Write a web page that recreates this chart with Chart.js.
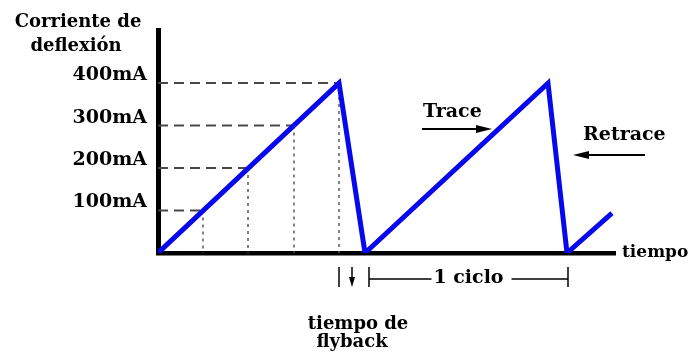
<!DOCTYPE html>
<html>
<head>
<meta charset="utf-8">
<script src="https://cdn.jsdelivr.net/npm/chart.js@4.4.1/dist/chart.umd.min.js"></script>
<style>
  html, body { margin: 0; padding: 0; background: #fff; }
  #wrap { width: 691px; height: 354px; }
</style>
</head>
<body>
<div id="wrap"><canvas id="deflexion"></canvas></div>
<script>
"use strict";

// Diente de sierra: tiempo (unidades arbitrarias) y corriente de deflexión (mA)
const tiempo = [0, 18.1, 20.7, 39.0, 40.9, 45.4];
const corriente = [0, 400, 0, 400, 0, 94];

// Niveles marcados en el eje y y el instante en que la primera rampa los cruza
const niveles = [100, 200, 300, 400];
const cruces = [4.5, 9.0, 13.6, 18.1];
const etiquetasY = ['100mA', '200mA', '300mA', '400mA'];

// Intervalos marcados bajo el eje de tiempo
const flybackInicio = 18.1;
const flybackFlecha = 19.4;
const cicloInicio = 21.1;
const cicloFin = 41.0;

const T_MAX = 45.7;
const I_MAX = 525;

const SERIF = '"DejaVu Serif", "Liberation Serif", serif';

function punto(t, i) {
  return { x: t, y: i };
}

const datasets = [{
  label: 'Corriente',
  data: tiempo.map((t, k) => punto(t, corriente[k])),
  borderColor: '#0808ec',
  borderWidth: 5,
  borderJoinStyle: 'miter',
  pointRadius: 0,
  tension: 0
}];

niveles.forEach((nivel, k) => {
  // guía horizontal discontinua desde el eje hasta la rampa
  datasets.push({
    data: [punto(0, nivel), punto(cruces[k], nivel)],
    borderColor: '#484848',
    borderWidth: 2,
    borderDash: [10, 6],
    pointRadius: 0
  });
  // guía vertical punteada desde la rampa hasta el eje
  datasets.push({
    data: [punto(cruces[k], nivel), punto(cruces[k], 0)],
    borderColor: '#5a5a5a',
    borderWidth: 1.5,
    borderDash: [3, 4],
    pointRadius: 0
  });
});

function flecha(ctx, x1, y1, x2, y2, largo, ancho) {
  const ang = Math.atan2(y2 - y1, x2 - x1);
  const bx = x2 - Math.cos(ang) * largo;
  const by = y2 - Math.sin(ang) * largo;
  ctx.beginPath();
  ctx.moveTo(x1, y1);
  ctx.lineTo(bx, by);
  ctx.stroke();
  ctx.beginPath();
  ctx.moveTo(x2, y2);
  ctx.lineTo(bx + Math.sin(ang) * ancho, by - Math.cos(ang) * ancho);
  ctx.lineTo(bx - Math.sin(ang) * ancho, by + Math.cos(ang) * ancho);
  ctx.closePath();
  ctx.fill();
}

function barra(ctx, px, y1, y2) {
  ctx.beginPath();
  ctx.moveTo(px, y1);
  ctx.lineTo(px, y2);
  ctx.stroke();
}

const anotaciones = {
  id: 'anotaciones',
  afterDraw(chart) {
    const { ctx, chartArea } = chart;
    const x = chart.scales.x;
    const y = chart.scales.y;
    const base = chartArea.bottom;

    ctx.save();
    ctx.fillStyle = '#000';
    ctx.strokeStyle = '#000';
    ctx.textBaseline = 'alphabetic';

    // título del eje y
    ctx.font = 'bold 18px ' + SERIF;
    ctx.textAlign = 'center';
    ctx.fillText('Corriente de', chartArea.left / 2 - 1, 27);
    ctx.fillText('deflexión', chartArea.left / 2 - 3, 51);

    // título del eje x
    ctx.font = 'bold 17px ' + SERIF;
    ctx.textAlign = 'left';
    ctx.fillText('tiempo', chartArea.right + 7, base + 4);

    // Trace / Retrace
    ctx.font = 'bold 19px ' + SERIF;
    ctx.fillText('Trace', x.getPixelForValue(26.5), y.getPixelForValue(320));
    ctx.fillText('Retrace', x.getPixelForValue(42.5), y.getPixelForValue(266));
    ctx.lineWidth = 2;
    flecha(ctx, x.getPixelForValue(26.4), y.getPixelForValue(292),
      x.getPixelForValue(33.4), y.getPixelForValue(292), 16, 4);
    flecha(ctx, x.getPixelForValue(48.7), y.getPixelForValue(231),
      x.getPixelForValue(41.5), y.getPixelForValue(231), 16, 4);

    // marcas bajo el eje
    const y1 = base + 14;
    const y2 = base + 34;
    const yl = base + 26;
    ctx.lineWidth = 1.5;
    barra(ctx, x.getPixelForValue(flybackInicio), y1, y2);
    barra(ctx, x.getPixelForValue(cicloInicio), y1, y2);
    barra(ctx, x.getPixelForValue(cicloFin), y1, y2);
    flecha(ctx, x.getPixelForValue(flybackFlecha), y1, x.getPixelForValue(flybackFlecha), y2, 10, 3);

    const c1 = x.getPixelForValue(cicloInicio);
    const c2 = x.getPixelForValue(cicloFin);
    const cm = (c1 + c2) / 2;
    ctx.font = 'bold 19px ' + SERIF;
    const w = ctx.measureText('1 ciclo').width;
    ctx.textAlign = 'center';
    ctx.textBaseline = 'middle';
    ctx.fillText('1 ciclo', cm, yl - 1);
    ctx.beginPath();
    ctx.moveTo(c1, yl);
    ctx.lineTo(cm - w / 2 - 2, yl);
    ctx.moveTo(cm + w / 2 + 8, yl);
    ctx.lineTo(c2, yl);
    ctx.stroke();

    // tiempo de flyback
    ctx.textBaseline = 'alphabetic';
    ctx.font = 'bold 18px ' + SERIF;
    const fx = x.getPixelForValue((flybackInicio + cicloInicio) / 2) + 2;
    ctx.fillText('tiempo de', fx + 2, base + 76);
    ctx.fillText('flyback', fx - 4, base + 94);

    ctx.restore();
  }
};

new Chart(document.getElementById('deflexion'), {
  type: 'line',
  data: { datasets },
  options: {
    responsive: true,
    maintainAspectRatio: false,
    animation: false,
    events: [],
    layout: { padding: { top: 30, right: 76, bottom: 101, left: 0 } },
    plugins: {
      legend: { display: false },
      tooltip: { enabled: false }
    },
    scales: {
      x: {
        type: 'linear',
        min: 0,
        max: T_MAX,
        ticks: { display: false },
        grid: { color: 'transparent', drawTicks: false },
        border: { display: true, color: '#000', width: 4.5 },
        afterFit(scale) { scale.height = 0; }
      },
      y: {
        type: 'linear',
        min: 0,
        max: I_MAX,
        afterBuildTicks(scale) {
          scale.ticks = niveles.map(v => ({ value: v }));
        },
        ticks: {
          callback: (v, k) => etiquetasY[k],
          color: '#000',
          padding: 11,
          labelOffset: -8,
          font: { family: SERIF, size: 19, weight: 'bold' }
        },
        grid: { color: 'transparent', drawTicks: false },
        border: { display: true, color: '#000', width: 5 },
        afterFit(scale) { scale.width = 158; }
      }
    }
  },
  plugins: [anotaciones]
});
</script>
</body>
</html>
